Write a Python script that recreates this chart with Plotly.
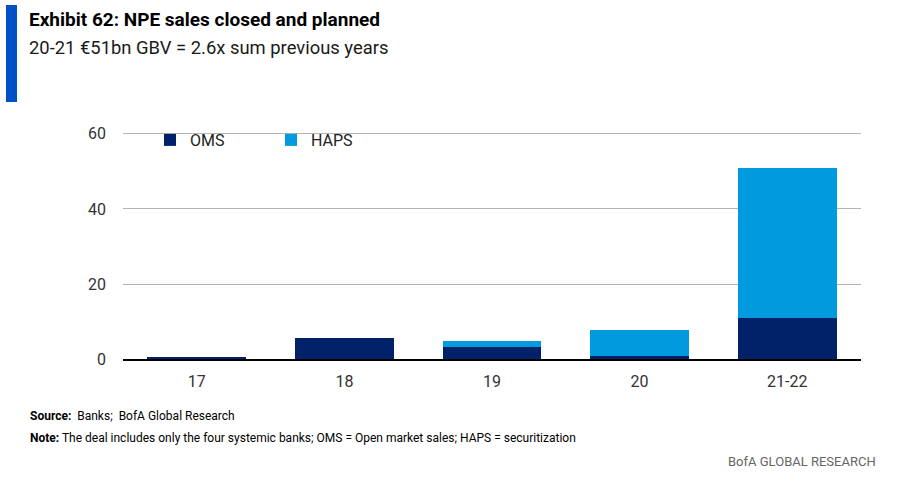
import plotly.graph_objects as go

categories = ["17", "18", "19", "20", "21-22"]
oms = [0.5, 5.8, 3.3, 0.9, 11.1]
haps = [0.0, 0.0, 1.5, 6.9, 39.9]
y_ticks = [0, 20, 40, 60]

W, H = 900, 484
FONT = "Roboto, Open Sans, sans-serif"

fig = go.Figure()
fig.add_trace(go.Bar(x=categories, y=oms, name="OMS", marker=dict(color="#012169", line=dict(width=0))))
fig.add_trace(go.Bar(x=categories, y=haps, name="HAPS", marker=dict(color="#009ADE", line=dict(width=0))))

def px(x):
    return x / W

def py(y):
    return 1 - y / H

fig.update_layout(
    template="none",
    width=W, height=H, autosize=False,
    margin=dict(l=0, r=0, t=0, b=0, pad=0),
    paper_bgcolor="white", plot_bgcolor="white",
    barmode="stack", bargap=0.33,
    font=dict(family=FONT, color="#333333", size=15),
    showlegend=True,
    legend=dict(orientation="h", x=px(150), y=py(123), xanchor="left", yanchor="top",
                font=dict(size=16, color="#222222"), itemwidth=30, traceorder="normal",
                bgcolor="rgba(0,0,0,0)", entrywidth=76),
    xaxis=dict(type="category", domain=[px(123), px(861)], showgrid=False, showline=True, linecolor="#000000",
               linewidth=1.5, ticks="", automargin=False, ticklabelstandoff=7,
               tickfont=dict(size=16, color="#333333")),
    yaxis=dict(domain=[py(359.3), py(132.7)], range=[0, 60.3], tickvals=y_ticks,
               showgrid=True, gridcolor="#b3b3b3", gridwidth=1.2, zeroline=False, automargin=False,
               showline=False, ticks="", ticklabelstandoff=16, tickfont=dict(size=16, color="#333333")),
    shapes=[dict(type="rect", xref="paper", yref="paper", x0=px(6), x1=px(17), y0=py(102), y1=py(5),
                 fillcolor="#0050C8", line=dict(width=0))],
    annotations=[
        dict(text="<b>Exhibit 62: NPE sales closed and planned</b>", x=px(27), y=py(6), xref="paper", yref="paper",
             xanchor="left", yanchor="top", showarrow=False, font=dict(size=19, color="#000000")),
        dict(text="20-21 €51bn GBV = 2.6x sum previous years", x=px(27), y=py(35), xref="paper", yref="paper",
             xanchor="left", yanchor="top", showarrow=False, font=dict(size=18.4, color="#1a1a1a")),
        dict(text="<b>Source:</b>  Banks;  BofA Global Research", x=px(28), y=py(416), xref="paper", yref="paper",
             xanchor="left", yanchor="middle", showarrow=False, font=dict(size=12, color="#000000")),
        dict(text="<b>Note:</b> The deal includes only the four systemic banks; OMS = Open market sales; HAPS = securitization",
             x=px(28), y=py(438), xref="paper", yref="paper",
             xanchor="left", yanchor="middle", showarrow=False, font=dict(size=12, color="#000000")),
        dict(text="BofA GLOBAL RESEARCH", x=px(878), y=py(461), xref="paper", yref="paper",
             xanchor="right", yanchor="middle", showarrow=False, font=dict(size=13, color="#666666")),
    ],
)

fig.write_html("out.html", config={"displayModeBar": False},
               post_script="document.body.style.margin='0';document.body.style.overflow='hidden';")
